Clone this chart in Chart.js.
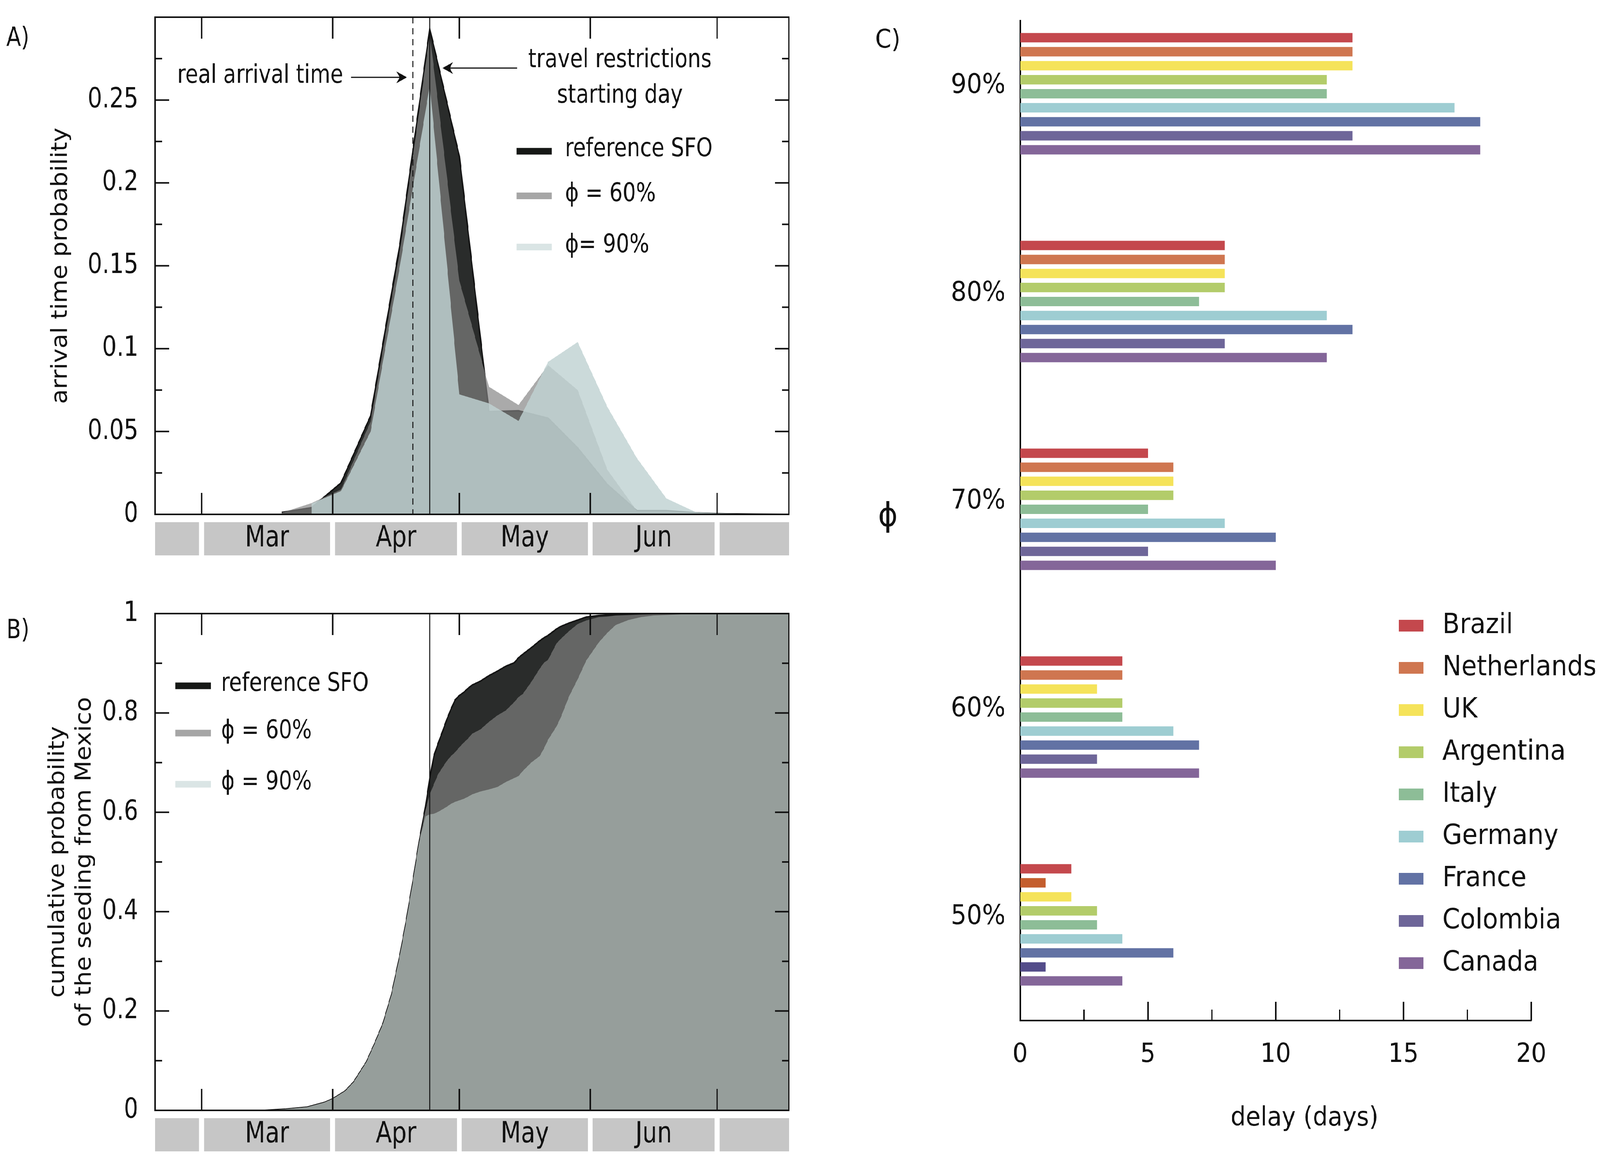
<!DOCTYPE html>
<html>
<head>
<meta charset="utf-8">
<title>Arrival time and travel restrictions</title>
<script src="https://cdn.jsdelivr.net/npm/chart.js@4.4.0/dist/chart.umd.min.js"></script>
<style>
  html, body { margin: 0; padding: 0; background: #fff; overflow: hidden; }
  #page { position: absolute; left: 0; top: 0; width: 4559px; height: 2988px; transform-origin: 0 0; background: #fff; }
  canvas { position: absolute; }
  #panelA { left: 0; top: 0; }
  #panelB { left: 0; top: 1500px; }
  #panelC { left: 2400px; top: 0; }
</style>
</head>
<body>
<div id="page">
<canvas id="panelA" width="2300" height="1450"></canvas>
<canvas id="panelB" width="2300" height="1488"></canvas>
<canvas id="panelC" width="2159" height="2988"></canvas>
</div>
<script>
// =========================
// DATA  (days counted from March 1st)
// =========================
const monthNames  = ['', 'Mar', 'Apr', 'May', 'Jun', ''];
const monthStarts = [-11, 0, 31, 61, 92, 122];
const monthEnds   = [0, 31, 61, 92, 122, 139];

const arrivalDay = 50;      // real arrival time (dashed)
const restrictionDay = 54;  // travel restrictions starting day

// panel A - weekly arrival time probability
const weekDays     = [19, 26, 33, 40, 47, 54, 61, 68, 75, 82, 89, 96, 103, 110, 117, 124, 131, 138];
const refArrival   = [0.0012, 0.004, 0.019, 0.0594, 0.164, 0.293, 0.216, 0.062, 0.0625, 0.058, 0.040, 0.018, 0.0022, 0.0022, 0.0009, 0.0003, 0.0001, 0];
const phi60Arrival = [0.001, 0.0068, 0.015, 0.056, 0.160, 0.290, 0.141, 0.077, 0.066, 0.090, 0.075, 0.027, 0.0022, 0.0022, 0.0009, 0.0003, 0.0001, 0];
const phi90Arrival = [null, 0.0065, 0.0141, 0.050, 0.151, 0.259, 0.0724, 0.067, 0.0564, 0.092, 0.104, 0.065, 0.034, 0.0096, 0.0013, 0.0006, 0.0003, 0.0001];

// panel B - cumulative probability of the seeding from Mexico
const cumDays = [15, 20, 25, 29, 31, 34, 36, 39, 41, 43, 45, 47, 48.5, 50, 51.5,
  53, 54, 55, 56, 57, 58, 59, 60, 61, 62, 63, 64, 66, 68, 70, 72, 74, 75, 76, 78,
  80, 81, 82, 84, 85, 87, 89, 91, 94, 96, 98, 101, 104, 107, 110, 115, 120, 139];
const refCumulative = [0, 0.0025, 0.0065, 0.0157, 0.023, 0.039, 0.057, 0.097, 0.135, 0.176, 0.234, 0.315, 0.384, 0.46, 0.541,
  0.612, 0.668, 0.714, 0.739, 0.762, 0.786, 0.807, 0.826, 0.835, 0.841, 0.849, 0.856, 0.864, 0.875, 0.884, 0.894, 0.901, 0.911, 0.918, 0.931,
  0.945, 0.951, 0.956, 0.969, 0.974, 0.981, 0.987, 0.993, 0.996, 0.997, 0.998, 0.9985, 0.999, 0.999, 1, 1, 1, 1];
const phi60Cumulative = [0, 0.0025, 0.0065, 0.0157, 0.023, 0.039, 0.057, 0.097, 0.135, 0.176, 0.234, 0.315, 0.384, 0.46, 0.541,
  0.605, 0.636, 0.657, 0.677, 0.690, 0.703, 0.713, 0.721, 0.731, 0.740, 0.748, 0.758, 0.767, 0.782, 0.795, 0.805, 0.822, 0.832, 0.838, 0.862,
  0.889, 0.901, 0.907, 0.940, 0.949, 0.965, 0.979, 0.986, 0.993, 0.994, 0.996, 0.997, 0.998, 0.9985, 0.999, 1, 1, 1];
const phi90Cumulative = [0, 0.0025, 0.0065, 0.0157, 0.023, 0.039, 0.057, 0.097, 0.135, 0.176, 0.234, 0.315, 0.384, 0.46, 0.541,
  0.592, 0.596, 0.597, 0.601, 0.606, 0.611, 0.617, 0.621, 0.624, 0.627, 0.631, 0.636, 0.642, 0.646, 0.651, 0.661, 0.669, 0.673, 0.683, 0.700,
  0.713, 0.728, 0.746, 0.773, 0.791, 0.834, 0.868, 0.905, 0.942, 0.961, 0.977, 0.987, 0.993, 0.996, 0.997, 0.999, 1, 1];

// panel C - delay (days) per country and phi
const countries = ['Brazil', 'Netherlands', 'UK', 'Argentina', 'Italy', 'Germany', 'France', 'Colombia', 'Canada'];
const countryColors = ['#c4484d', '#cf7650', '#f5e35a', '#b3cc6a', '#8dbd97', '#9ecdd2', '#6272a4', '#6e6699', '#846699'];
const colors50 = ['#c4484d', '#c45e2e', '#f5e35a', '#b3cc6a', '#8dbd97', '#9ecdd2', '#6272a4', '#544d8a', '#846699'];
const phiLabels = ['90%', '80%', '70%', '60%', '50%'];
const delay90 = [13, 13, 13, 12, 12, 17, 18, 13, 18];
const delay80 = [8, 8, 8, 8, 7, 12, 13, 8, 12];
const delay70 = [5, 6, 6, 6, 5, 8, 10, 5, 10];
const delay60 = [4, 4, 3, 4, 4, 6, 7, 3, 7];
const delay50 = [2, 1, 2, 3, 3, 4, 6, 1, 4];

// =========================
// STRETCH THE 4559x2988 LAYOUT OVER THE WINDOW
// =========================
const PAGE_W = 4559, PAGE_H = 2988;
const sx = (window.innerWidth / PAGE_W) || 1;
const sy = (window.innerHeight / PAGE_H) || 1;
document.getElementById('page').style.transform = `scale(${sx}, ${sy})`;
const pixelRatio = (window.devicePixelRatio || 1) * Math.max(sx, sy);

// =========================
// COMMON STYLE
// =========================
const INK = '#111';
const COND = '"DejaVu Sans Condensed", "Liberation Sans Narrow", "DejaVu Sans", sans-serif';
const WIDE = '"DejaVu Sans", Verdana, sans-serif';
Chart.defaults.color = INK;

function toPoints(days, vals) {
    const pts = [];
    days.forEach((d, i) => { if (vals[i] !== null) pts.push({ x: d, y: vals[i] }); });
    return pts;
}

function seg(ctx, x0, y0, x1, y1) {
    ctx.beginPath();
    ctx.moveTo(x0, y0);
    ctx.lineTo(x1, y1);
    ctx.stroke();
}

function arrow(ctx, xFrom, xTip, yy) {
    const dir = xTip > xFrom ? 1 : -1;
    ctx.lineWidth = 3;
    seg(ctx, xFrom, yy, xTip - dir * 18, yy);
    ctx.beginPath();
    ctx.moveTo(xTip, yy);
    ctx.lineTo(xTip - dir * 30, yy - 15);
    ctx.lineTo(xTip - dir * 21, yy);
    ctx.lineTo(xTip - dir * 30, yy + 15);
    ctx.closePath();
    ctx.fill();
}

// no extra room for the end tick labels: the plot box is fixed
function noLabelPadding(s) {
    s.paddingTop = 0;
    s.paddingBottom = 0;
}

// =========================
// TIME PANELS (A and B)
// =========================
function timePanelPlugin(cfg) {
    return {
        id: 'timePanel',
        afterDatasetsDraw(chart) {
            const { ctx, chartArea: a, scales: { x, y } } = chart;
            ctx.save();
            ctx.strokeStyle = INK;
            ctx.fillStyle = INK;

            // marker lines
            ctx.lineWidth = 3.5;
            if (cfg.dashed) {
                const dx = x.getPixelForValue(arrivalDay);
                ctx.setLineDash([16, 12]);
                seg(ctx, dx, a.top, dx, a.bottom);
                ctx.setLineDash([]);
            }
            const rx = x.getPixelForValue(restrictionDay);
            seg(ctx, rx, a.top, rx, a.bottom);

            // frame
            ctx.lineWidth = 4;
            ctx.strokeRect(a.left, a.top, a.right - a.left, a.bottom - a.top);

            // inward ticks, left and right
            const n = Math.round(cfg.yMax / cfg.minorStep);
            for (let i = 1; i < n; i++) {
                const py = y.getPixelForValue(i * cfg.minorStep);
                const len = i % 2 === 0 ? 40 : 20;
                seg(ctx, a.left, py, a.left + len, py);
                seg(ctx, a.right - len, py, a.right, py);
            }
            // month ticks, top and bottom
            monthStarts.slice(1).forEach(d => {
                const px = x.getPixelForValue(d);
                seg(ctx, px, a.top, px, a.top + 55);
                seg(ctx, px, a.bottom - 55, px, a.bottom);
            });
            ctx.restore();
        },
        afterDraw(chart) {
            const { ctx, chartArea: a, scales: { x, y } } = chart;
            ctx.save();

            // month boxes
            const last = monthNames.length - 1;
            monthNames.forEach((m, i) => {
                const x0 = i === 0 ? a.left : x.getPixelForValue(monthStarts[i]) + 7;
                const x1 = i === last ? a.right : x.getPixelForValue(monthEnds[i]) - 7;
                ctx.fillStyle = '#c6c6c6';
                ctx.fillRect(x0, a.bottom + 20, x1 - x0, 85);
                if (m) {
                    ctx.fillStyle = INK;
                    ctx.font = `74px ${COND}`;
                    ctx.textAlign = 'center';
                    ctx.textBaseline = 'middle';
                    ctx.fillText(m, (x0 + x1) / 2, a.bottom + 63);
                }
            });

            // legend
            ctx.font = `66px ${COND}`;
            ctx.textAlign = 'left';
            ctx.textBaseline = 'middle';
            chart.data.datasets.forEach((ds, i) => {
                const py = y.getPixelForValue(cfg.legendY[i]);
                ctx.strokeStyle = ds.legendColor;
                ctx.lineWidth = 17;
                seg(ctx, x.getPixelForValue(cfg.legendBar[0]), py, x.getPixelForValue(cfg.legendBar[1]), py);
                ctx.fillStyle = INK;
                ctx.fillText(ds.label, x.getPixelForValue(cfg.legendText), py - 4);
            });

            // panel letter
            ctx.font = `68px ${COND}`;
            ctx.fillText(cfg.letter, 18, cfg.letterY);

            if (cfg.notes) cfg.notes(chart);
            ctx.restore();
        }
    };
}

function arrivalNotes(chart) {
    const { ctx, scales: { x, y } } = chart;
    ctx.fillStyle = INK;
    ctx.strokeStyle = INK;
    ctx.font = `66px ${COND}`;
    ctx.textBaseline = 'middle';
    ctx.textAlign = 'right';
    ctx.fillText('real arrival time', x.getPixelForValue(33.5), y.getPixelForValue(0.2644));
    arrow(ctx, x.getPixelForValue(35.4), x.getPixelForValue(48.6), y.getPixelForValue(0.2637));
    ctx.textAlign = 'center';
    ctx.fillText('travel restrictions', x.getPixelForValue(99), y.getPixelForValue(0.2738));
    ctx.fillText('starting day', x.getPixelForValue(99), y.getPixelForValue(0.2524));
    arrow(ctx, x.getPixelForValue(74.7), x.getPixelForValue(57.0), y.getPixelForValue(0.2693));
}

function areaSet(label, points, fillColor, legendColor, order, stroke) {
    return {
        label: label,
        data: points,
        fill: 'origin',
        backgroundColor: fillColor,
        borderColor: stroke ? '#141414' : 'transparent',
        borderWidth: stroke ? 4 : 0,
        pointRadius: 0,
        tension: 0,
        order: order,
        legendColor: legendColor
    };
}

function timeOptions(cfg) {
    return {
        responsive: false,
        animation: false,
        devicePixelRatio: pixelRatio,
        layout: { padding: cfg.padding },
        plugins: { legend: { display: false }, tooltip: { enabled: false } },
        scales: {
            x: { type: 'linear', min: monthStarts[0], max: monthEnds[monthEnds.length - 1], display: false },
            y: {
                type: 'linear', min: 0, max: cfg.yMax,
                grid: { display: false },
                border: { display: false },
                ticks: {
                    stepSize: cfg.minorStep * 2,
                    padding: 40,
                    font: { family: COND, size: 72 },
                    callback: v => (v > cfg.labelMax ? '' : String(+v.toFixed(2)))
                },
                title: {
                    display: true,
                    text: cfg.title,
                    font: { family: WIDE, size: 62, lineHeight: 1.23 },
                    padding: { top: cfg.titlePad, bottom: 0 }
                },
                afterFit: s => { s.width = 442; noLabelPadding(s); }
            }
        }
    };
}

// ---- panel A ----
new Chart(document.getElementById('panelA'), {
    type: 'line',
    data: {
        datasets: [
            areaSet('reference SFO', toPoints(weekDays, refArrival), '#2a2c2b', '#161816', 3, true),
            areaSet('ϕ = 60%', toPoints(weekDays, phi60Arrival), 'rgba(130,130,130,0.68)', '#a6a6a6', 2, false),
            areaSet('ϕ= 90%', toPoints(weekDays, phi90Arrival), 'rgba(192,210,210,0.82)', '#dae5e5', 1, false)
        ]
    },
    options: timeOptions({
        padding: { left: 0, top: 44, right: 52, bottom: 133 },
        yMax: 0.3, minorStep: 0.025, labelMax: 0.26,
        title: 'arrival time probability', titlePad: 136
    }),
    plugins: [timePanelPlugin({
        dashed: true, yMax: 0.3, minorStep: 0.025,
        legendY: [0.2191, 0.1922, 0.1613], legendBar: [74.5, 82.9], legendText: 86.0,
        letter: 'A)', letterY: 100, notes: arrivalNotes
    })]
});

// ---- panel B ----
new Chart(document.getElementById('panelB'), {
    type: 'line',
    data: {
        datasets: [
            areaSet('reference SFO', toPoints(cumDays, refCumulative), '#2a2c2b', '#161816', 3, true),
            areaSet('ϕ = 60%', toPoints(cumDays, phi60Cumulative), '#656665', '#a6a6a6', 2, false),
            areaSet('ϕ = 90%', toPoints(cumDays, phi90Cumulative), '#969e9b', '#dae5e5', 1, false)
        ]
    },
    options: timeOptions({
        padding: { left: 0, top: 71, right: 52, bottom: 145 },
        yMax: 1, minorStep: 0.1, labelMax: 1.01,
        title: ['cumulative probability', 'of the seeding from Mexico'], titlePad: 128
    }),
    plugins: [timePanelPlugin({
        dashed: false, yMax: 1, minorStep: 0.1,
        legendY: [0.8546, 0.7594, 0.6564], legendBar: [-6.2, 2.2], legendText: 4.6,
        letter: 'B)', letterY: 116
    })]
});

// =========================
// PANEL C - delay bars
// =========================
const delayRows = [delay90, delay80, delay70, delay60, delay50];
const rowPos = i => phiLabels.length - i;   // 90% on top

const barPanelPlugin = {
    id: 'barPanel',
    afterDraw(chart) {
        const { ctx, chartArea: a, scales: { x } } = chart;
        ctx.save();
        ctx.strokeStyle = INK;
        ctx.fillStyle = INK;
        ctx.lineWidth = 4;
        for (let v = 2.5; v <= 20; v += 2.5) {
            const px = x.getPixelForValue(v);
            seg(ctx, px, a.bottom, px, a.bottom - (v % 5 === 0 ? 48 : 28));
        }
        ctx.textBaseline = 'middle';
        ctx.textAlign = 'center';
        ctx.font = `84px ${WIDE}`;
        ctx.fillText('ϕ', 130, (a.top + a.bottom) / 2 - 8);
        ctx.font = `68px ${WIDE}`;
        ctx.fillText('delay (days)', 1317, a.bottom + 251);
        ctx.textAlign = 'left';
        ctx.font = `66px ${WIDE}`;
        ctx.fillText('C)', 94, 105);

        // legend
        ctx.font = `72px ${WIDE}`;
        chart.data.datasets.forEach((ds, i) => {
            const cy = 1602 + i * 108;
            ctx.fillStyle = countryColors[i];
            ctx.fillRect(1586, cy - 15, 70, 30);
            ctx.fillStyle = INK;
            ctx.fillText(ds.label, 1710, cy);
        });
        ctx.restore();
    }
};

new Chart(document.getElementById('panelC'), {
    type: 'bar',
    data: {
        datasets: countries.map((c, k) => ({
            label: c,
            data: delayRows.map((row, i) => ({ x: row[k], y: rowPos(i) })),
            backgroundColor: delayRows.map(row => (row === delay50 ? colors50[k] : countryColors[k])),
            borderWidth: 0,
            categoryPercentage: 0.607,
            barPercentage: 0.67
        }))
    },
    options: {
        indexAxis: 'y',
        responsive: false,
        animation: false,
        devicePixelRatio: pixelRatio,
        layout: { padding: { left: 0, top: 53, right: 196, bottom: 0 } },
        plugins: { legend: { display: false }, tooltip: { enabled: false } },
        scales: {
            x: {
                type: 'linear', min: 0, max: 20,
                grid: { display: false },
                border: { display: true, color: INK, width: 4 },
                ticks: { stepSize: 5, padding: 40, font: { family: WIDE, size: 68 } },
                afterFit: s => { s.height = 375; }
            },
            y: {
                type: 'linear', min: 0.5395, max: 5.3515,
                offset: false,
                grid: { display: false },
                border: { display: true, color: INK, width: 4 },
                afterBuildTicks: s => { s.ticks = phiLabels.map((_, i) => ({ value: i + 1 })); },
                ticks: {
                    padding: 34,
                    labelOffset: -20,
                    font: { family: WIDE, size: 70 },
                    callback: v => phiLabels[phiLabels.length - v]
                },
                afterFit: s => { s.width = 507; noLabelPadding(s); }
            }
        }
    },
    plugins: [barPanelPlugin]
});
</script>
</body>
</html>
